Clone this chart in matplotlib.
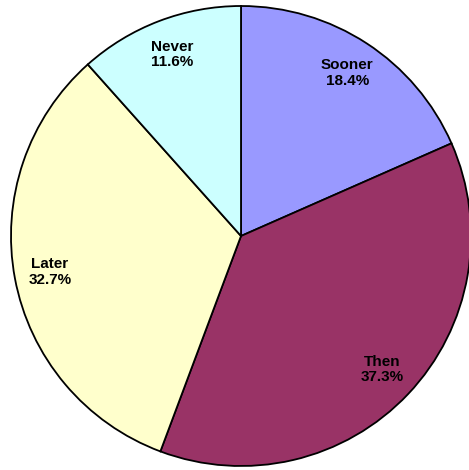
import matplotlib
matplotlib.use("Agg")
import matplotlib.pyplot as plt
import numpy as np

labels = ["Sooner", "Then", "Later", "Never"]
values = [18.4, 37.3, 32.7, 11.6]
colors = ["#9999FF", "#993366", "#FFFFCC", "#CCFFFF"]

fig = plt.figure(figsize=(4.69, 4.70), dpi=100)
ax = fig.add_axes([11 / 469, 4 / 470, 460 / 469, 460 / 470])

wedges, texts = ax.pie(values, colors=colors, startangle=90, counterclock=False,
                       wedgeprops=dict(edgecolor="black", linewidth=1.3))

# etiquetas dentro de cada porcion
for w, lab, v in zip(wedges, labels, values):
    ang = np.deg2rad((w.theta1 + w.theta2) / 2)
    r = 0.845
    ax.text(r * np.cos(ang), r * np.sin(ang), f"{lab}\n{v:.1f}%",
            ha="center", va="center", fontsize=11, fontweight="bold",
            family="Liberation Sans", linespacing=1.15)

ax.set_xlim(-1.0, 1.0)
ax.set_ylim(-1.0, 1.0)
ax.set_aspect("equal")
ax.axis("off")

fig.savefig("out.png", dpi=100)
